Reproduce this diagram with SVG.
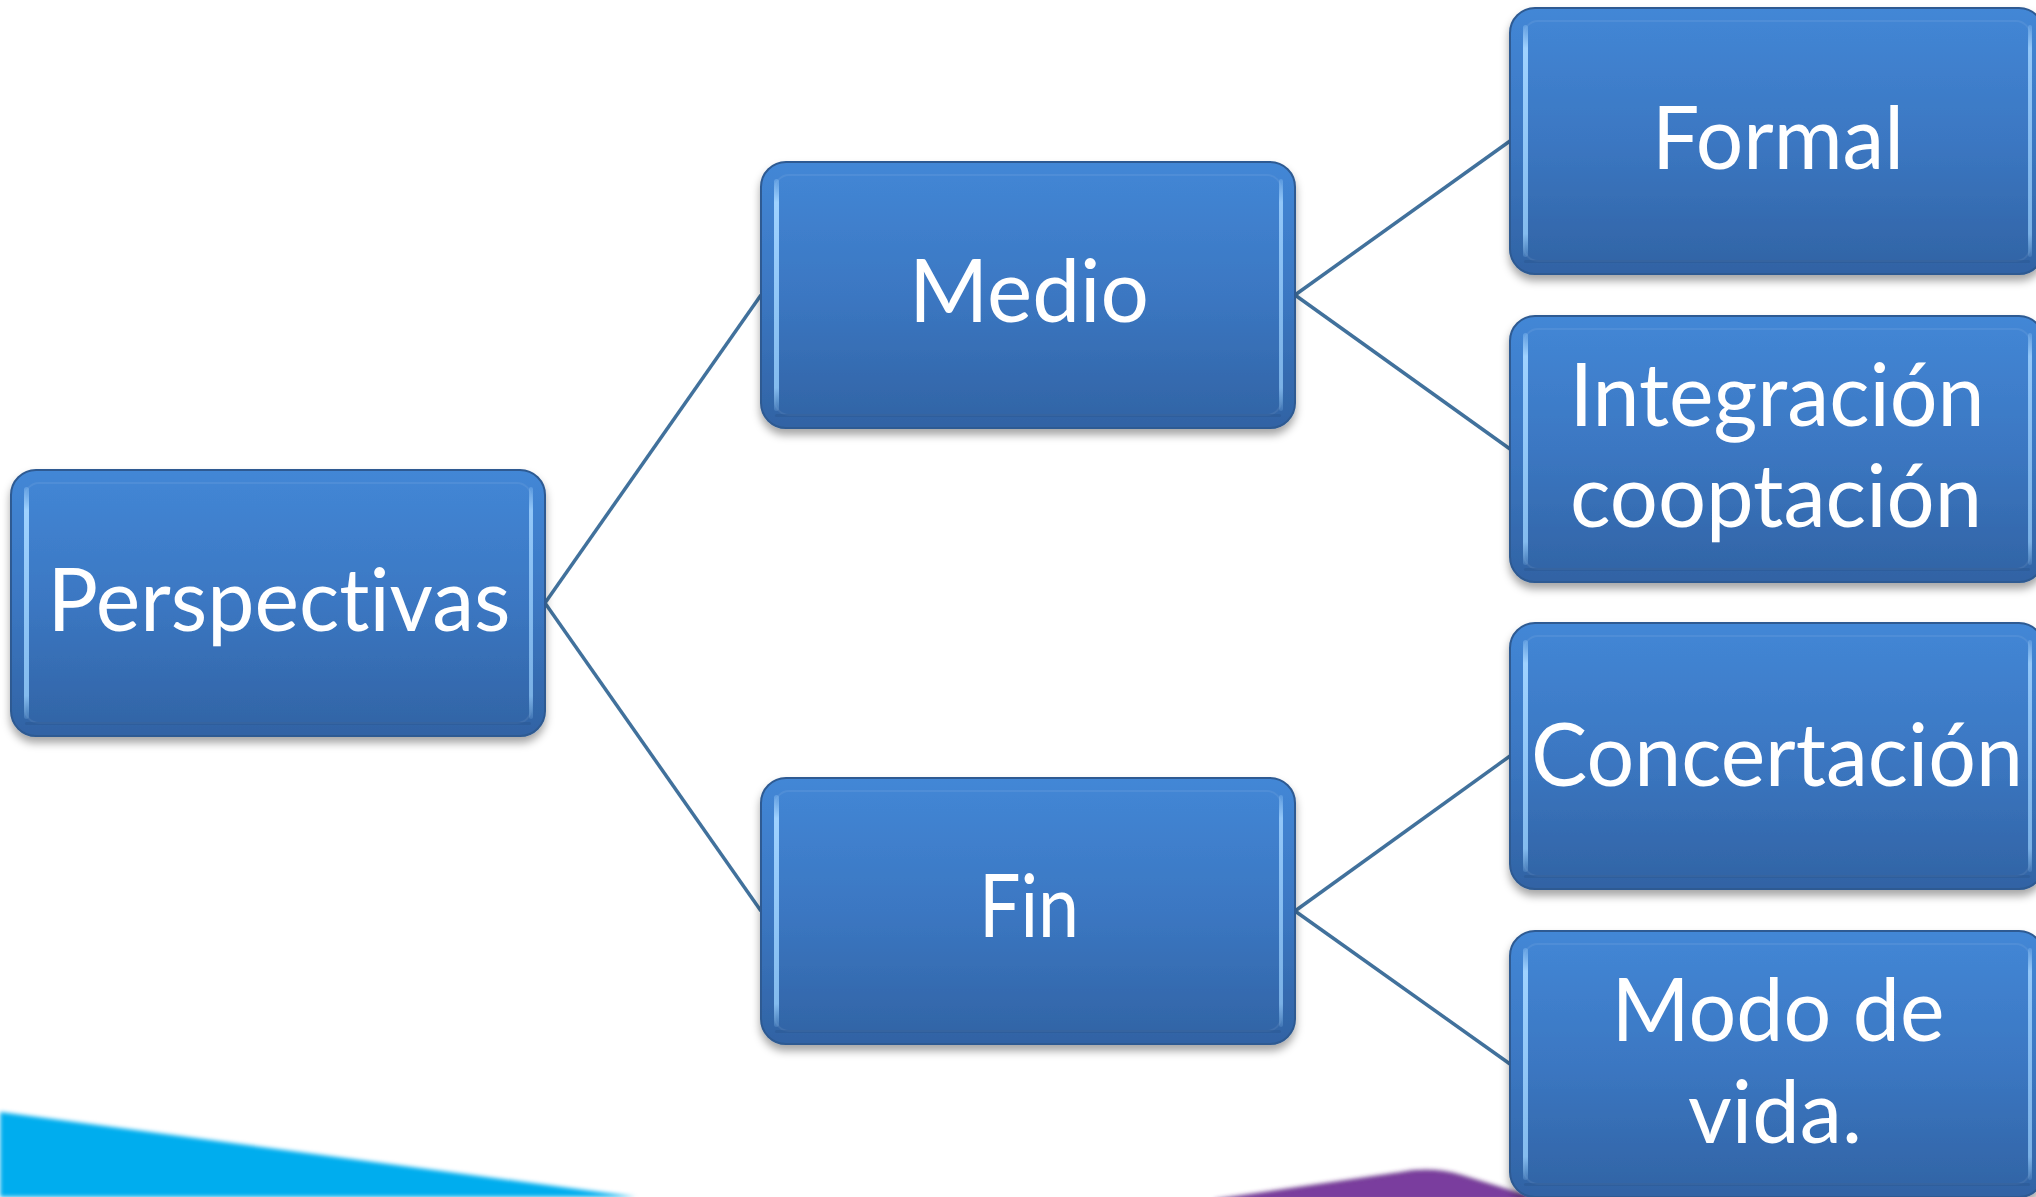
<svg xmlns="http://www.w3.org/2000/svg" xmlns:xlink="http://www.w3.org/1999/xlink" width="2036" height="1197" viewBox="0 0 2036 1197">
  <style>
    .lbl { font-family: Lato, "Open Sans", "Liberation Sans", sans-serif; font-size: 88px; fill: #ffffff; text-anchor: middle; font-variant-ligatures: none; font-feature-settings: "liga" 0, "clig" 0; }
    .link { stroke: #41719C; stroke-width: 3.5; fill: none; }
  </style>
  <defs>
    <linearGradient id="gFill" x1="0" y1="0" x2="0" y2="1">
      <stop offset="0" stop-color="#4387D6"/>
      <stop offset="0.5" stop-color="#3B77C2"/>
      <stop offset="1" stop-color="#3163A4"/>
    </linearGradient>
    <linearGradient id="gHi" x1="0" y1="0" x2="0" y2="1">
      <stop offset="0" stop-color="#9FD2FF" stop-opacity="0.3"/>
      <stop offset="0.1" stop-color="#9FD2FF" stop-opacity="1"/>
      <stop offset="0.9" stop-color="#8CC4F5" stop-opacity="0.9"/>
      <stop offset="1" stop-color="#8CC4F5" stop-opacity="0.2"/>
    </linearGradient>
    <filter id="shadow" x="-10%" y="-10%" width="120%" height="125%">
      <feDropShadow dx="0" dy="6" stdDeviation="4" flood-color="#000000" flood-opacity="0.35"/>
    </filter>
    <filter id="soft" x="-5%" y="-20%" width="110%" height="140%">
      <feGaussianBlur stdDeviation="2"/>
    </filter>
    <!-- bevelled blue tile shared by every node -->
    <g id="tile">
      <rect x="0" y="0" width="534" height="266" rx="25" fill="url(#gFill)" stroke="#2D5A92" stroke-width="2" filter="url(#shadow)"/>
      <rect x="14" y="13" width="506" height="240" rx="14" fill="none" stroke="#ffffff" stroke-opacity="0.07" stroke-width="2"/>
      <rect x="14" y="252" width="506" height="3" rx="1.5" fill="#2A5690" opacity="0.45"/>
      <rect x="13" y="17" width="5" height="232" rx="2.5" fill="url(#gHi)"/>
      <rect x="518" y="17" width="4" height="232" rx="2" fill="url(#gHi)" opacity="0.85"/>
    </g>
  </defs>

  <rect width="2036" height="1197" fill="#ffffff"/>

  <!-- decorative bands along the bottom edge -->
  <polygon points="0,1112 636,1197 0,1197" fill="#00ADEE" filter="url(#soft)"/>
  <path d="M1215,1200 L1400,1173 Q1432,1167 1462,1176 L1540,1200 Z" fill="#7A3D9E" stroke="#5E2C80" stroke-width="1.5" filter="url(#soft)"/>

  <g id="connectors">
    <line class="link" x1="545" y1="603" x2="761" y2="295"/>
    <line class="link" x1="545" y1="603" x2="761" y2="911"/>
    <line class="link" x1="1295" y1="295" x2="1510" y2="141"/>
    <line class="link" x1="1295" y1="295" x2="1510" y2="449"/>
    <line class="link" x1="1295" y1="911" x2="1510" y2="756"/>
    <line class="link" x1="1295" y1="911" x2="1510" y2="1064"/>
  </g>

  <g id="node-perspectivas">
    <use xlink:href="#tile" x="11" y="470"/>
    <text class="lbl" x="279" y="631" textLength="463" lengthAdjust="spacingAndGlyphs">Perspectivas</text>
  </g>

  <g id="node-medio">
    <use xlink:href="#tile" x="761" y="162"/>
    <text class="lbl" x="1029" y="322" textLength="240" lengthAdjust="spacingAndGlyphs">Medio</text>
  </g>

  <g id="node-fin">
    <use xlink:href="#tile" x="761" y="778"/>
    <text class="lbl" x="1029" y="937" textLength="100" lengthAdjust="spacingAndGlyphs">Fin</text>
  </g>

  <g id="node-formal">
    <use xlink:href="#tile" x="1510" y="8"/>
    <text class="lbl" x="1778" y="169" textLength="252" lengthAdjust="spacingAndGlyphs">Formal</text>
  </g>

  <g id="node-integracion">
    <use xlink:href="#tile" x="1510" y="316"/>
    <text class="lbl" x="1777" y="426" textLength="415" lengthAdjust="spacingAndGlyphs">Integración</text>
    <text class="lbl" x="1776" y="527" textLength="412" lengthAdjust="spacingAndGlyphs">cooptación</text>
  </g>

  <g id="node-concertacion">
    <use xlink:href="#tile" x="1510" y="623"/>
    <text class="lbl" x="1777" y="786" textLength="492" lengthAdjust="spacingAndGlyphs">Concertación</text>
  </g>

  <g id="node-modo-de-vida">
    <use xlink:href="#tile" x="1510" y="931"/>
    <text class="lbl" x="1778" y="1041" textLength="333" lengthAdjust="spacingAndGlyphs">Modo de</text>
    <text class="lbl" x="1775" y="1143" textLength="174" lengthAdjust="spacingAndGlyphs">vida.</text>
  </g>
</svg>
